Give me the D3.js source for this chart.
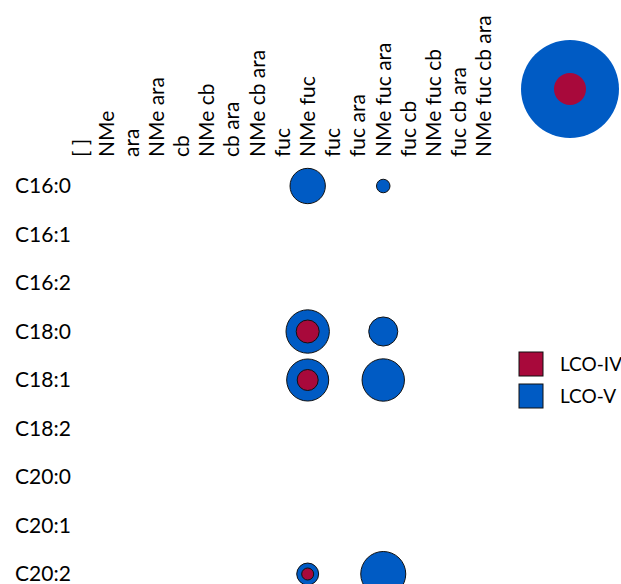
<!DOCTYPE html>
<html>
<head>
<meta charset="utf-8">
<script src="https://cdn.jsdelivr.net/npm/d3@7/dist/d3.min.js"></script>
<style>
  html, body { margin: 0; padding: 0; background: #fff; }
  svg text { font-family: Lato, "Open Sans", sans-serif; fill: #000; }
</style>
</head>
<body>
<svg id="chart" width="621" height="584"></svg>
<script>
// Modification columns (note "fuc" appears twice, so columns are addressed by index)
const columns = ["[ ]", "NMe", "ara", "NMe ara", "cb", "NMe cb", "cb ara", "NMe cb ara",
  "fuc", "NMe fuc", "fuc", "fuc ara", "NMe fuc ara", "fuc cb", "NMe fuc cb",
  "fuc cb ara", "NMe fuc cb ara"];

// Fatty acyl chains
const rows = ["C16:0", "C16:1", "C16:2", "C18:0", "C18:1", "C18:2", "C20:0", "C20:1", "C20:2"];

const seriesNames = ["LCO-IV", "LCO-V"];
const seriesColors = ["#a8093b", "#005bc4"];

// [row, column index, relative abundance]
const lcoIV = [
  ["C18:0", 9, 5.5],
  ["C18:1", 9, 4.6],
  ["C20:2", 9, 1.5]
];
const lcoV = [
  ["C16:0", 9, 13.0],
  ["C16:0", 12, 1.9],
  ["C18:0", 9, 19.6],
  ["C18:0", 12, 8.8],
  ["C18:1", 9, 18.4],
  ["C18:1", 12, 18.7],
  ["C20:2", 9, 5.0],
  ["C20:2", 12, 21.1]
];

// Size key values
const sizeKey = [100, 10.7];

const svg = d3.select("#chart");

const x = d3.scalePoint().domain(d3.range(columns.length)).range([81, 484]);
const y = d3.scalePoint().domain(rows).range([186, 574]);
const r = d3.scaleSqrt().domain([0, 100]).range([0, 49]);

const fontSize = 21;

// Column labels, rotated
svg.append("g").selectAll("text")
  .data(columns)
  .join("text")
  .attr("transform", (d, i) => `translate(${x(i)},157) rotate(-90)`)
  .attr("dy", "0.35em")
  .attr("text-anchor", "start")
  .style("font-size", fontSize + "px")
  .style("white-space", "pre")
  .text(d => d);

// Row labels
svg.append("g").selectAll("text")
  .data(rows)
  .join("text")
  .attr("x", 15)
  .attr("y", d => y(d))
  .attr("dy", "0.35em")
  .style("font-size", fontSize + "px")
  .text(d => d);

// Bubbles: LCO-V underneath, LCO-IV on top
const layers = [lcoV, lcoIV];
const layerColors = [seriesColors[1], seriesColors[0]];
layers.forEach((data, k) => {
  svg.append("g").selectAll("circle")
    .data(data)
    .join("circle")
    .attr("cx", d => x(d[1]))
    .attr("cy", d => y(d[0]))
    .attr("r", d => r(d[2]))
    .attr("fill", layerColors[k])
    .attr("stroke", "#111")
    .attr("stroke-width", 1);
});

// Size key (top right)
const key = svg.append("g").attr("transform", "translate(570,89)");
key.selectAll("circle")
  .data(sizeKey)
  .join("circle")
  .attr("r", d => r(d))
  .attr("fill", (d, i) => i === 0 ? seriesColors[1] : seriesColors[0]);

// Colour legend
const legend = svg.append("g").attr("transform", "translate(519,352)");
const item = legend.selectAll("g")
  .data(seriesNames)
  .join("g")
  .attr("transform", (d, i) => `translate(0,${i * 32})`);
item.append("rect")
  .attr("width", 24).attr("height", 24)
  .attr("fill", (d, i) => seriesColors[i])
  .attr("stroke", "#111").attr("stroke-width", 1);
item.append("text")
  .attr("x", 41).attr("y", 12).attr("dy", "0.35em")
  .style("font-size", "19px")
  .text(d => d);
</script>
</body>
</html>
